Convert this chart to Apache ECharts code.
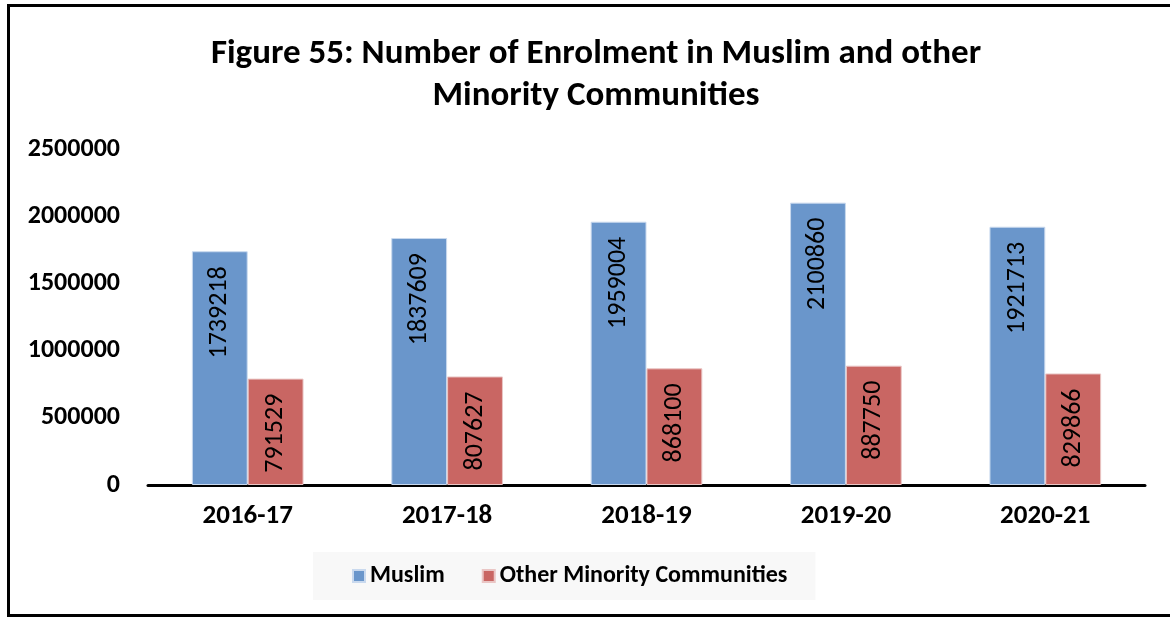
<!DOCTYPE html>
<html>
<head>
<meta charset="utf-8">
<script src="https://cdn.jsdelivr.net/npm/echarts@6/dist/echarts.min.js"></script>
<style>
  html, body { margin: 0; padding: 0; background: #fff; }
  #frame {
    position: absolute; left: 7px; top: 4px; width: 1163px; height: 613px;
    border-left: 3px solid #000; border-top: 3px solid #000; border-bottom: 3px solid #000;
    box-sizing: border-box;
  }
  #chart { position: absolute; left: 0; top: 0; width: 1170px; height: 617px; }
</style>
</head>
<body>
<div id="frame"></div>
<div id="chart"></div>
<script>
const years = ['2016-17', '2017-18', '2018-19', '2019-20', '2020-21'];
const muslim = [1739218, 1837609, 1959004, 2100860, 1921713];
const otherMinority = [791529, 807627, 868100, 887750, 829866];
const yTicks = [0, 500000, 1000000, 1500000, 2000000, 2500000];

const font = 'Calibri, Carlito, Lato, "Open Sans", sans-serif';

var myChart = echarts.init(document.getElementById('chart'));

const labelStyle = {
  show: true,
  position: 'insideTop',
  rotate: 90,
  align: 'right',
  verticalAlign: 'middle',
  distance: 15,
  color: '#000',
  fontFamily: font,
  fontSize: 26
};

const option = {
  animation: false,
  title: {
    text: 'Figure 55: Number of Enrolment in Muslim and other\nMinority Communities',
    left: 591,
    top: 28,
    textAlign: 'center',
    textStyle: {
      fontFamily: font,
      fontWeight: 'bold',
      fontSize: 35,
      lineHeight: 42,
      color: '#000'
    }
  },
  legend: {
    left: 313,
    top: 552,
    padding: [12, 28, 12, 39],
    itemGap: 37,
    itemWidth: 12,
    itemHeight: 12,
    backgroundColor: '#F8F8F8',
    icon: 'rect',
    textStyle: { fontFamily: font, fontWeight: 'bold', fontSize: 24, color: '#000' },
    data: ['Muslim', 'Other Minority Communities']
  },
  grid: { left: 148, right: 25, top: 149, bottom: 132 },
  xAxis: {
    type: 'category',
    data: years,
    axisTick: { show: false },
    axisLine: { lineStyle: { color: '#000', width: 3 } },
    axisLabel: {
      margin: 18,
      color: '#000',
      fontFamily: font,
      fontWeight: 'bold',
      fontSize: 27
    }
  },
  yAxis: {
    type: 'value',
    min: yTicks[0],
    max: yTicks[yTicks.length - 1],
    interval: 500000,
    splitLine: { show: false },
    axisLine: { show: false },
    axisTick: { show: false },
    axisLabel: {
      margin: 28,
      color: '#000',
      fontFamily: font,
      fontWeight: 'bold',
      fontSize: 26,
      formatter: function (v) { return String(v); }
    }
  },
  series: [
    {
      name: 'Muslim',
      type: 'bar',
      data: muslim,
      barGap: '0%',
      barCategoryGap: '44%',
      itemStyle: { color: '#6A96CB', borderColor: '#C9D9EE', borderWidth: 1 },
      label: labelStyle
    },
    {
      name: 'Other Minority Communities',
      type: 'bar',
      data: otherMinority,
      itemStyle: { color: '#C96663', borderColor: '#EAC6C5', borderWidth: 1 },
      label: labelStyle
    }
  ]
};

myChart.setOption(option);
</script>
</body>
</html>
